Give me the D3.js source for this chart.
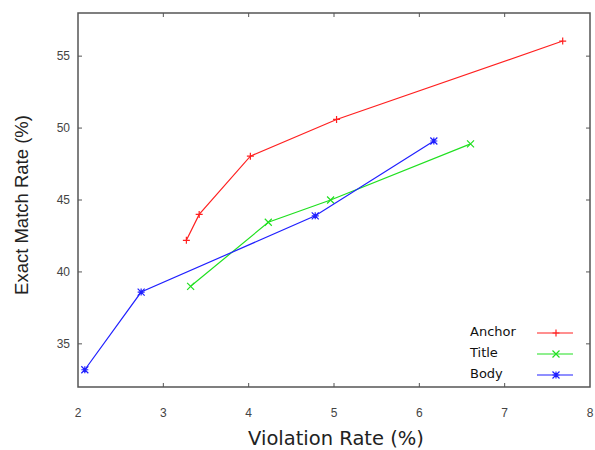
<!DOCTYPE html>
<html>
<head>
<meta charset="utf-8">
<script src="https://cdn.jsdelivr.net/npm/d3@7"></script>
<style>
  body { margin: 0; background: #fff; }
  svg { display: block; }
</style>
</head>
<body>
<svg id="chart" width="595" height="450"></svg>
<script>
// data
const seriesNames = ["Anchor", "Title", "Body"];
const anchorX = [3.27, 3.42, 4.02, 5.03, 7.68];
const anchorY = [42.2, 44.0, 48.05, 50.6, 56.05];
const titleX = [3.32, 4.23, 4.96, 6.6];
const titleY = [39.0, 43.45, 45.0, 48.9];
const bodyX = [2.08, 2.74, 4.78, 6.17];
const bodyY = [33.2, 38.6, 43.9, 49.1];
const xTicks = [2, 3, 4, 5, 6, 7, 8];
const yTicks = [35, 40, 45, 50, 55];

const series = [
  { name: seriesNames[0], xs: anchorX, ys: anchorY, color: "#ff2020", marker: "plus" },
  { name: seriesNames[1], xs: titleX, ys: titleY, color: "#20e020", marker: "cross" },
  { name: seriesNames[2], xs: bodyX, ys: bodyY, color: "#2020ff", marker: "star" }
];

const margin = { top: 13, right: 5, bottom: 63, left: 78 };
const W = 595, H = 450;
const svg = d3.select("#chart");

const x = d3.scaleLinear().domain([2, 8]).range([margin.left, W - margin.right]);
const y = d3.scaleLinear().domain([32, 58]).range([H - margin.bottom, margin.top]);

// frame
svg.append("rect")
  .attr("x", x(2)).attr("y", y(58))
  .attr("width", x(8) - x(2)).attr("height", y(32) - y(58))
  .attr("fill", "none").attr("stroke", "#555").attr("stroke-width", 1.5);

const tickLen = 4;
const axisG = svg.append("g").attr("stroke", "#555").attr("stroke-width", 1);
// inward ticks on all four sides
xTicks.slice(1, -1).forEach(t => {
  axisG.append("line").attr("x1", x(t)).attr("x2", x(t)).attr("y1", y(32)).attr("y2", y(32) - tickLen);
  axisG.append("line").attr("x1", x(t)).attr("x2", x(t)).attr("y1", y(58)).attr("y2", y(58) + tickLen);
});
yTicks.forEach(t => {
  axisG.append("line").attr("x1", x(2)).attr("x2", x(2) + tickLen).attr("y1", y(t)).attr("y2", y(t));
  axisG.append("line").attr("x1", x(8)).attr("x2", x(8) - tickLen).attr("y1", y(t)).attr("y2", y(t));
});

// tick labels
svg.append("g").selectAll("text").data(xTicks).join("text")
  .attr("x", d => x(d)).attr("y", 417)
  .attr("text-anchor", "middle")
  .attr("font-family", "Liberation Sans, Arial, sans-serif")
  .attr("font-size", 12).attr("fill", "#444")
  .text(d => d);

svg.append("g").selectAll("text").data(yTicks).join("text")
  .attr("x", 70).attr("y", d => y(d) + 4)
  .attr("text-anchor", "end")
  .attr("font-family", "Liberation Sans, Arial, sans-serif")
  .attr("font-size", 12).attr("fill", "#444")
  .text(d => d);

// axis titles
svg.append("text")
  .attr("x", 336).attr("y", 445)
  .attr("text-anchor", "middle")
  .attr("font-family", "DejaVu Sans, Verdana, sans-serif")
  .attr("font-size", 19.5).attr("fill", "#222")
  .text("Violation Rate (%)");

svg.append("text")
  .attr("transform", "translate(28, 205) rotate(-90)")
  .attr("text-anchor", "middle")
  .attr("font-family", "Liberation Sans, Arial, sans-serif")
  .attr("font-size", 18.5).attr("fill", "#222")
  .text("Exact Match Rate (%)");

function drawMarker(g, cx, cy, type, color) {
  const s = 3.5;
  const p = d3.path();
  if (type === "plus" || type === "star") {
    p.moveTo(cx - s, cy); p.lineTo(cx + s, cy);
    p.moveTo(cx, cy - s); p.lineTo(cx, cy + s);
  }
  if (type === "cross" || type === "star") {
    p.moveTo(cx - s, cy - s); p.lineTo(cx + s, cy + s);
    p.moveTo(cx - s, cy + s); p.lineTo(cx + s, cy - s);
  }
  g.append("path").attr("d", p.toString())
    .attr("stroke", color).attr("stroke-width", 1.2).attr("fill", "none");
}

const line = d3.line().x(d => x(d[0])).y(d => y(d[1]));

series.forEach(s => {
  const pts = s.xs.map((v, i) => [v, s.ys[i]]);
  const g = svg.append("g");
  g.append("path").datum(pts)
    .attr("d", line)
    .attr("fill", "none").attr("stroke", s.color).attr("stroke-width", 1.2);
  pts.forEach(p => drawMarker(g, x(p[0]), y(p[1]), s.marker, s.color));
});

// legend
const legend = svg.append("g");
series.forEach((s, i) => {
  const ly = 333 + i * 21;
  legend.append("text")
    .attr("x", 470).attr("y", ly + 3)
    .attr("font-family", "DejaVu Sans, Verdana, sans-serif")
    .attr("font-size", 13).attr("fill", "#111")
    .text(s.name);
  legend.append("line")
    .attr("x1", 537).attr("x2", 573).attr("y1", ly).attr("y2", ly)
    .attr("stroke", s.color).attr("stroke-width", 1.2);
  drawMarker(legend, 556, ly, s.marker, s.color);
});
</script>
</body>
</html>
